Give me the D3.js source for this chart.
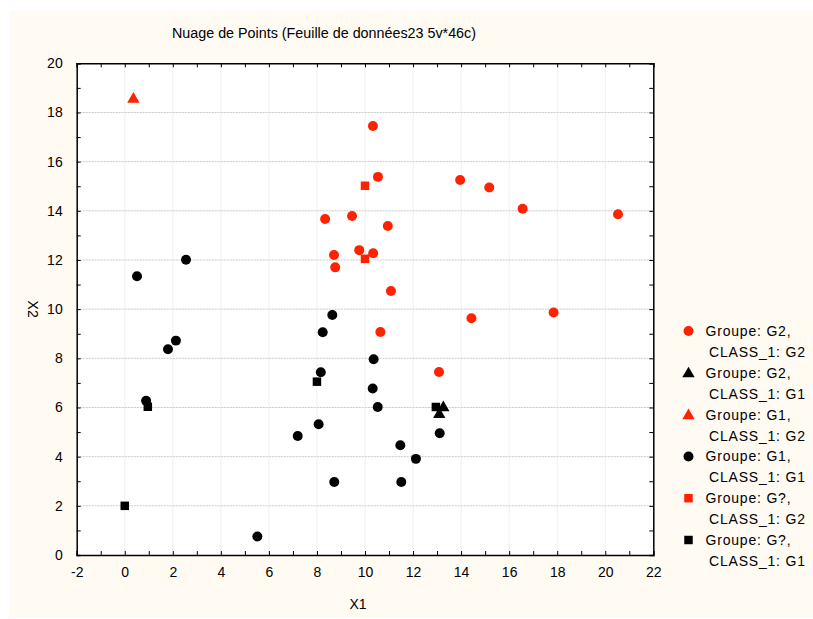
<!DOCTYPE html>
<html>
<head>
<meta charset="utf-8">
<script src="https://cdn.jsdelivr.net/npm/d3@7"></script>
<style>
  body { margin: 0; background: #fff; }
  svg text { font-family: "Liberation Sans", Arial, sans-serif; fill: #000; }
</style>
</head>
<body>
<div class="chart"></div>
<script>
// données
const g2_c2 = [[10.33,17.45],[10.54,15.38],[13.96,15.25],[15.17,14.95],[16.56,14.08],[20.53,13.86],
  [8.34,13.67],[9.46,13.79],[10.95,13.38],[8.71,12.2],[9.76,12.4],[10.34,12.27],[8.76,11.7],
  [11.08,10.74],[14.43,9.63],[17.85,9.86],[10.64,9.07],[13.08,7.44]];
const g2_c1 = [[13.26,6.03],[13.09,5.76]];
const g1_c2 = [[0.36,18.58]];
const g1_c1 = [[8.64,9.76],[8.24,9.06],[10.36,7.96],[8.16,7.43],[10.32,6.77],[10.53,6.02],
  [8.07,5.32],[7.2,4.84],[13.11,4.95],[11.47,4.46],[12.12,3.91],[8.72,2.97],[11.51,2.97],
  [1.8,8.37],[2.13,8.72],[0.89,6.27],[5.52,0.75],[0.51,11.34],[2.55,12.01]];
const gq_c2 = [[10,15.02],[10,12.05]];
const gq_c1 = [[8,7.05],[12.95,6.02],[0.96,6.03],[0,2]];

const xTicks = [-2,0,2,4,6,8,10,12,14,16,18,20,22];
const yTicks = [0,2,4,6,8,10,12,14,16,18,20];
const legendGroupe = ["Groupe: G2,","Groupe: G2,","Groupe: G1,","Groupe: G1,","Groupe: G?,","Groupe: G?,"];
const legendClass = ["CLASS_1: G2","CLASS_1: G1","CLASS_1: G2","CLASS_1: G1","CLASS_1: G2","CLASS_1: G1"];

const red = "#ff2200";
const series = [
  { data: g2_c2, shape: "circle", color: red },
  { data: g2_c1, shape: "triangle", color: "#000" },
  { data: g1_c2, shape: "triangle", color: red },
  { data: g1_c1, shape: "circle", color: "#000" },
  { data: gq_c2, shape: "square", color: red },
  { data: gq_c1, shape: "square", color: "#000" }
];

const W = 813, H = 619;
const plot = { left: 76.7, right: 653.3, top: 63.3, bottom: 555 };

const svg = d3.select(".chart").append("svg")
  .attr("width", W).attr("height", H);

// fond crème
svg.append("rect").attr("x", 9).attr("y", 11).attr("width", W - 9).attr("height", 607)
  .attr("fill", "#fffbf2");
svg.append("rect").attr("x", plot.left).attr("y", plot.top)
  .attr("width", plot.right - plot.left).attr("height", plot.bottom - plot.top)
  .attr("fill", "#fff");

const x = d3.scaleLinear().domain([-2, 22]).range([plot.left, plot.right]);
const y = d3.scaleLinear().domain([0, 20]).range([plot.bottom, plot.top]);

// grille
svg.append("g").selectAll("line").data(yTicks.slice(1, -1)).enter().append("line")
  .attr("x1", plot.left).attr("x2", plot.right)
  .attr("y1", d => y(d)).attr("y2", d => y(d))
  .attr("stroke", "#c8c8c8").attr("stroke-dasharray", "2,1");
svg.append("g").selectAll("line").data(xTicks.slice(1, -1)).enter().append("line")
  .attr("y1", plot.top).attr("y2", plot.bottom)
  .attr("x1", d => x(d)).attr("x2", d => x(d))
  .attr("stroke", "#e0e0e0").attr("stroke-dasharray", "1,1");

// axes (graduations vers l'intérieur)
const xMinor = d3.range(-2, 22.1, 1);
const yMinor = d3.range(0, 20.1, 1);
const axB = d3.axisBottom(x).tickValues(xMinor).tickSize(-4).tickFormat(d => xTicks.includes(d) ? d : "").tickPadding(12);
const axT = d3.axisTop(x).tickValues(xMinor).tickSize(-4).tickFormat("");
const axL = d3.axisLeft(y).tickValues(yMinor).tickSize(-4).tickFormat(d => yTicks.includes(d) ? d : "").tickPadding(14);
const axR = d3.axisRight(y).tickValues(yMinor).tickSize(-4).tickFormat("");

function styleAxis(g) {
  g.select(".domain").attr("stroke", "#000").attr("stroke-width", 1.5);
  g.selectAll(".tick line").attr("stroke", "#000");
  g.selectAll(".tick text").style("font-size", "14px").style("font-family", "Liberation Sans, Arial, sans-serif");
}
svg.append("g").attr("transform", `translate(0,${plot.bottom})`).call(axB).call(styleAxis);
svg.append("g").attr("transform", `translate(0,${plot.top})`).call(axT).call(styleAxis);
svg.append("g").attr("transform", `translate(${plot.left},0)`).call(axL).call(styleAxis);
svg.append("g").attr("transform", `translate(${plot.right},0)`).call(axR).call(styleAxis);

// symboles
const symType = { circle: d3.symbolCircle, triangle: d3.symbolTriangle, square: d3.symbolSquare };
const symSize = { circle: 78, triangle: 66, square: 72 };
function sym(shape) { return d3.symbol().type(symType[shape]).size(symSize[shape])(); }

series.forEach(s => {
  svg.append("g").selectAll("path").data(s.data).enter().append("path")
    .attr("transform", d => `translate(${x(d[0])},${y(d[1]) + (s.shape === "triangle" ? 1 : 0)})`)
    .attr("d", sym(s.shape))
    .attr("fill", s.color);
});

// titres
svg.append("text").attr("x", 172).attr("y", 38)
  .style("font-size", "14px").attr("textLength", 304).attr("lengthAdjust", "spacingAndGlyphs")
  .text("Nuage de Points (Feuille de données23 5v*46c)");
svg.append("text").attr("x", 358).attr("y", 609).attr("text-anchor", "middle")
  .style("font-size", "14px").text("X1");
svg.append("text").attr("transform", `translate(28,${(plot.top + plot.bottom) / 2}) rotate(90)`)
  .attr("text-anchor", "middle").style("font-size", "14px").text("X2");

// légende
const legendY = d3.scaleLinear().domain([0, 5]).range([331, 540]);
const leg = svg.append("g");
series.forEach((s, i) => {
  leg.append("path")
    .attr("transform", `translate(688.5,${legendY(i) + (s.shape === "triangle" ? 1 : 0)})`)
    .attr("d", sym(s.shape)).attr("fill", s.color);
  leg.append("text").attr("x", 705.5).attr("y", legendY(i) + 5)
    .style("font-size", "14px").style("letter-spacing", "0.8px").text(legendGroupe[i]);
  leg.append("text").attr("x", 709).attr("y", legendY(i) + 26)
    .style("font-size", "14px").style("letter-spacing", "0.8px").text(legendClass[i]);
});
</script>
</body>
</html>
